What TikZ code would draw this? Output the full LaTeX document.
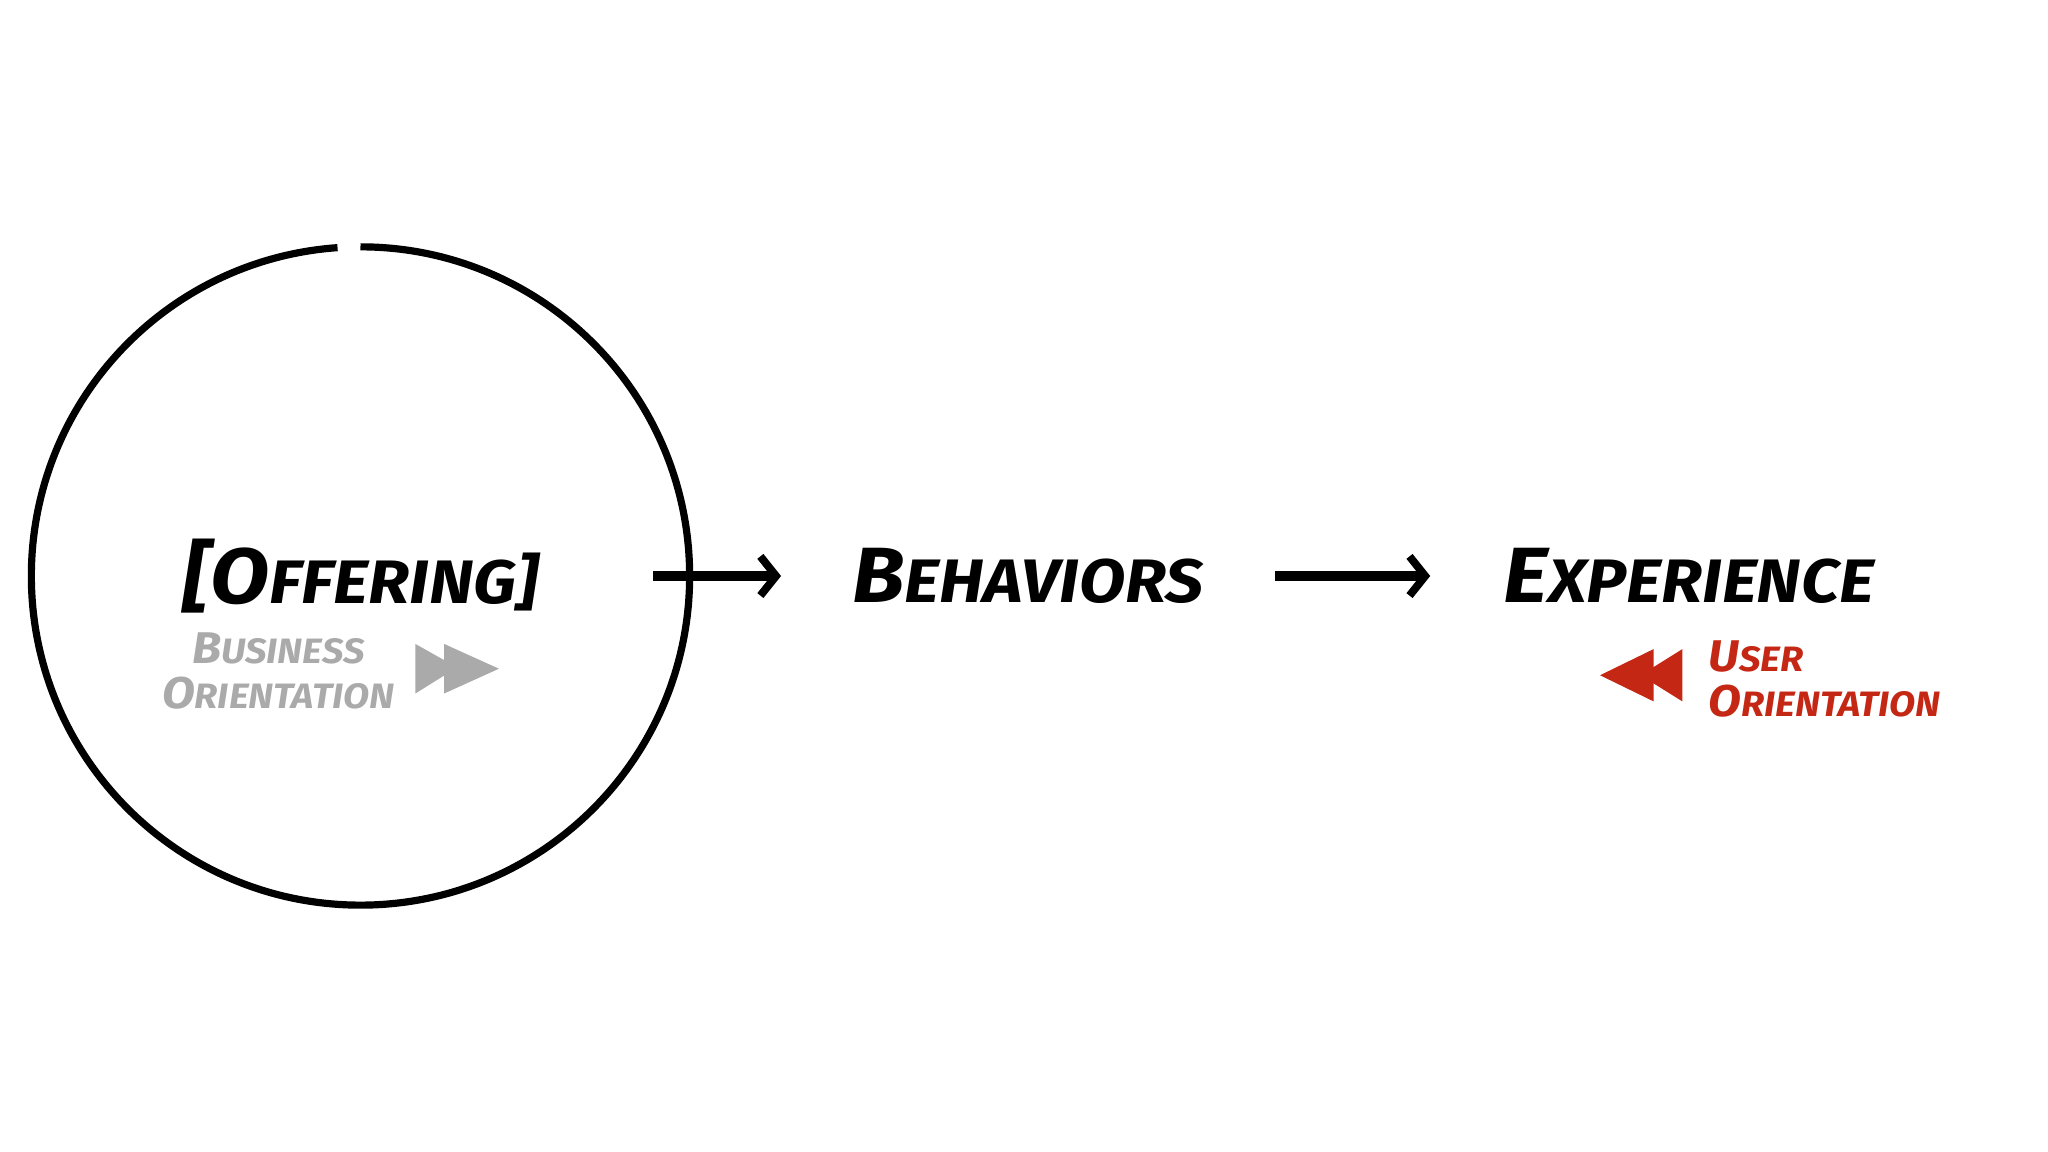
\documentclass[tikz,border=0pt]{standalone}
\usepackage{fontspec}
\setmainfont{Fira Sans}
\usetikzlibrary{arrows.meta}
\definecolor{bizgray}{RGB}{170,170,170}
\definecolor{userred}{RGB}{196,40,20}
\newcommand{\bigsc}[2]{{\fontsize{60}{60}\selectfont #1}{\fontsize{47}{47}\selectfont #2}}
\newcommand{\smallsc}[2]{{\fontsize{34}{34}\selectfont #1}{\fontsize{27}{27}\selectfont #2}}
\begin{document}
\begin{tikzpicture}[x=1pt,y=1pt,
  lbl/.style={font=\bfseries\itshape, inner sep=0pt},
  flow/.style={line width=7pt, -{Straight Barb[length=12pt,width=30pt,line width=6pt]}},
  ring/.style={line width=5.5pt}]
\useasboundingbox (0,0) rectangle (1568,882);
\coordinate (c) at (276,441);
\draw[ring] (c) ++(90:252) arc[start angle=90, end angle=-266, radius=252];
\node[lbl, xscale=1.1] (off) at (276,441) {\bigsc{[O}{FFERING]}};
\node[lbl, xscale=1.1] (beh) at (787,441) {\bigsc{B}{EHAVIORS}};
\node[lbl, xscale=1.1] (exp) at (1293,441) {\bigsc{E}{XPERIENCE}};
\coordinate (a1) at (500,441);
\coordinate (a1e) at (598,441);
\coordinate (a2) at (976,441);
\coordinate (a2e) at (1095,441);
\draw[flow] (a1) -- (a1e);
\draw[flow] (a2) -- (a2e);
\node[lbl, text=bizgray, align=center, xscale=1.08] (biz) at (213,368) {\smallsc{B}{USINESS}\\[9pt]\smallsc{O}{RIENTATION}};
\node[lbl, text=userred, align=left, anchor=west, xscale=1.08] (usr) at (1308,362) {\smallsc{U}{SER}\\[9pt]\smallsc{O}{RIENTATION}};
\fill[bizgray] (318,389) -- (350,371) -- (318,351) -- cycle;
\fill[bizgray] (340,389) -- (382,370) -- (340,351) -- cycle;
\fill[userred] (1288,385) -- (1256,365) -- (1288,345) -- cycle;
\fill[userred] (1266,385) -- (1225,365) -- (1266,345) -- cycle;
\end{tikzpicture}
\end{document}
